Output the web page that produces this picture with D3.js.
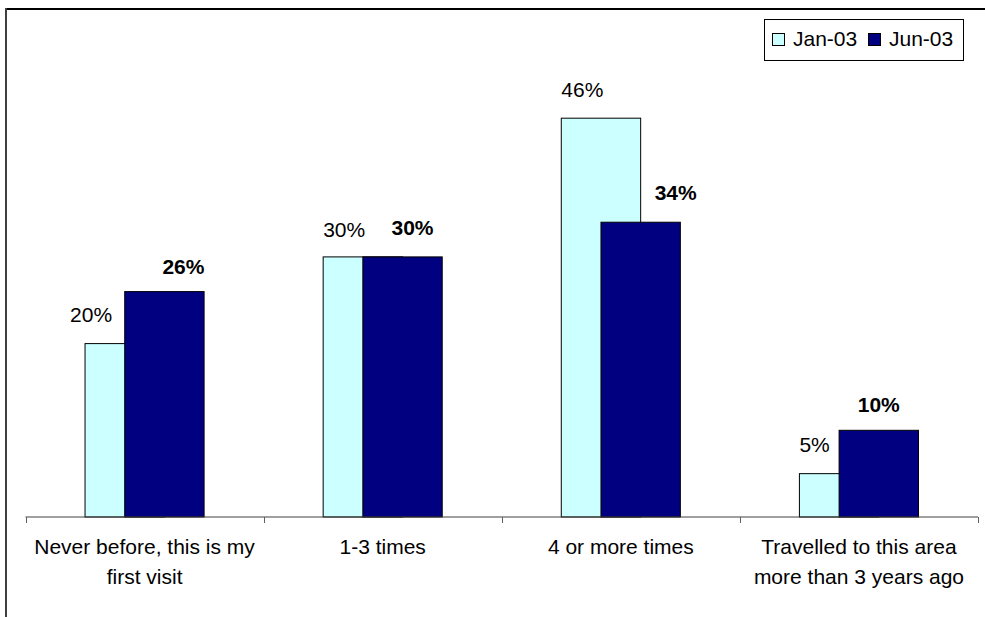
<!DOCTYPE html>
<html>
<head>
<meta charset="utf-8">
<script src="https://cdn.jsdelivr.net/npm/d3@7"></script>
<style>
  html, body { margin: 0; padding: 0; background: #fff; }
  svg { display: block; font-family: "Liberation Sans", Arial, Helvetica, sans-serif; }
</style>
</head>
<body>
<svg id="chart" width="985" height="617"></svg>
<script>
// Survey: how often respondents had visited the area before
const categories = [
  "Never before, this is my first visit",
  "1-3 times",
  "4 or more times",
  "Travelled to this area more than 3 years ago"
];
const seriesNames = ["Jan-03", "Jun-03"];
const jan03 = [20, 30, 46, 5];
const jun03 = [26, 30, 34, 10];
const seriesColors = ["#CCFFFF", "#000080"];

const svg = d3.select("#chart");
const W = 985, H = 617;

// Chart frame (its right and bottom edges fall outside the page)
svg.append("line").attr("x1", 6).attr("x2", W + 5).attr("y1", 9).attr("y2", 9)
  .attr("stroke", "#000").attr("stroke-width", 2);
svg.append("line").attr("x1", 6).attr("x2", 6).attr("y1", 8).attr("y2", H + 5)
  .attr("stroke", "#404040").attr("stroke-width", 2);

const plot = { left: 25.5, right: 978, bottom: 517 };

const x = d3.scaleBand().domain(categories).range([plot.left, plot.right]).padding(0);
const y = d3.scaleLinear().domain([0, 50]).range([plot.bottom, 83.5]);

const bw = x.bandwidth() / 3;           // bar width; the two series overlap by half
const center = c => x(c) + x.bandwidth() / 2;
const janX = c => center(c) - 0.75 * bw;
const junX = c => center(c) - 0.25 * bw;

const g = svg.append("g");

// Jan-03 bars first, Jun-03 bars overlap them
g.selectAll("rect.jan").data(categories).join("rect")
  .attr("class", "jan")
  .attr("x", c => janX(c))
  .attr("width", bw)
  .attr("y", (c, i) => y(jan03[i]))
  .attr("height", (c, i) => y(0) - y(jan03[i]))
  .attr("fill", seriesColors[0])
  .attr("stroke", "#000").attr("stroke-width", 1);

g.selectAll("rect.jun").data(categories).join("rect")
  .attr("class", "jun")
  .attr("x", c => junX(c))
  .attr("width", bw)
  .attr("y", (c, i) => y(jun03[i]))
  .attr("height", (c, i) => y(0) - y(jun03[i]))
  .attr("fill", seriesColors[1])
  .attr("stroke", "#000").attr("stroke-width", 1);

// Category axis: baseline with tick marks between categories
const axisG = svg.append("g").attr("transform", `translate(0,${plot.bottom})`);
axisG.append("line").attr("x1", plot.left).attr("x2", plot.right)
  .attr("y1", 0).attr("y2", 0).attr("stroke", "#404040").attr("stroke-width", 1);
const tickXs = categories.map(c => x(c)).concat([plot.right]);
axisG.selectAll("line.tick").data(tickXs).join("line")
  .attr("class", "tick")
  .attr("x1", d => Math.round(d) + 0.5).attr("x2", d => Math.round(d) + 0.5)
  .attr("y1", 0).attr("y2", 6)
  .attr("stroke", "#606060").attr("stroke-width", 1);

// Category labels, wrapped to the band width
const catText = svg.append("g").selectAll("text").data(categories).join("text")
  .attr("x", c => center(c))
  .attr("y", 554)
  .attr("text-anchor", "middle")
  .attr("font-size", 21)
  .attr("fill", "#000");

catText.each(function(c) {
  const t = d3.select(this);
  const words = c.split(" ");
  const cx = center(c);
  let line = [];
  let tspan = t.append("tspan").attr("x", cx).attr("dy", 0);
  words.forEach(w => {
    line.push(w);
    tspan.text(line.join(" "));
    if (tspan.node().getComputedTextLength() > 232 && line.length > 1) {
      line.pop();
      tspan.text(line.join(" "));
      line = [w];
      tspan = t.append("tspan").attr("x", cx).attr("dy", 29.5).text(w);
    }
  });
});

// Value labels (hand-placed offsets from their bars)
const janNudge = [[-15, -22], [0, -20], [0, -21], [0, -22]];
const junNudge = [[19, -18], [10, -22], [35, -22], [0, -18]];

svg.append("g").selectAll("text").data(categories).join("text")
  .attr("x", (c, i) => janX(c) + janNudge[i][0])
  .attr("y", (c, i) => y(jan03[i]) + janNudge[i][1])
  .attr("text-anchor", "start")
  .attr("font-size", 21)
  .attr("fill", "#000")
  .text((c, i) => jan03[i] + "%");

svg.append("g").selectAll("text").data(categories).join("text")
  .attr("x", (c, i) => junX(c) + bw / 2 + junNudge[i][0])
  .attr("y", (c, i) => y(jun03[i]) + junNudge[i][1])
  .attr("text-anchor", "middle")
  .attr("font-size", 21)
  .attr("font-weight", "bold")
  .attr("fill", "#000")
  .text((c, i) => jun03[i] + "%");

// Legend
const legend = svg.append("g");
legend.append("rect").attr("x", 764.5).attr("y", 19.5).attr("width", 199).attr("height", 41)
  .attr("fill", "#fff").attr("stroke", "#000").attr("stroke-width", 1);
const legendX = [772, 868];
const items = legend.selectAll("g.item").data(seriesNames).join("g")
  .attr("class", "item")
  .attr("transform", (d, i) => `translate(${legendX[i]},0)`);
items.append("rect").attr("x", 0.5).attr("y", 33.5).attr("width", 12).attr("height", 12)
  .attr("fill", (d, i) => seriesColors[i]).attr("stroke", "#000").attr("stroke-width", 1);
items.append("text").attr("x", 21).attr("y", 45.5)
  .attr("font-size", 21).attr("fill", "#000")
  .text(d => d);
</script>
</body>
</html>
